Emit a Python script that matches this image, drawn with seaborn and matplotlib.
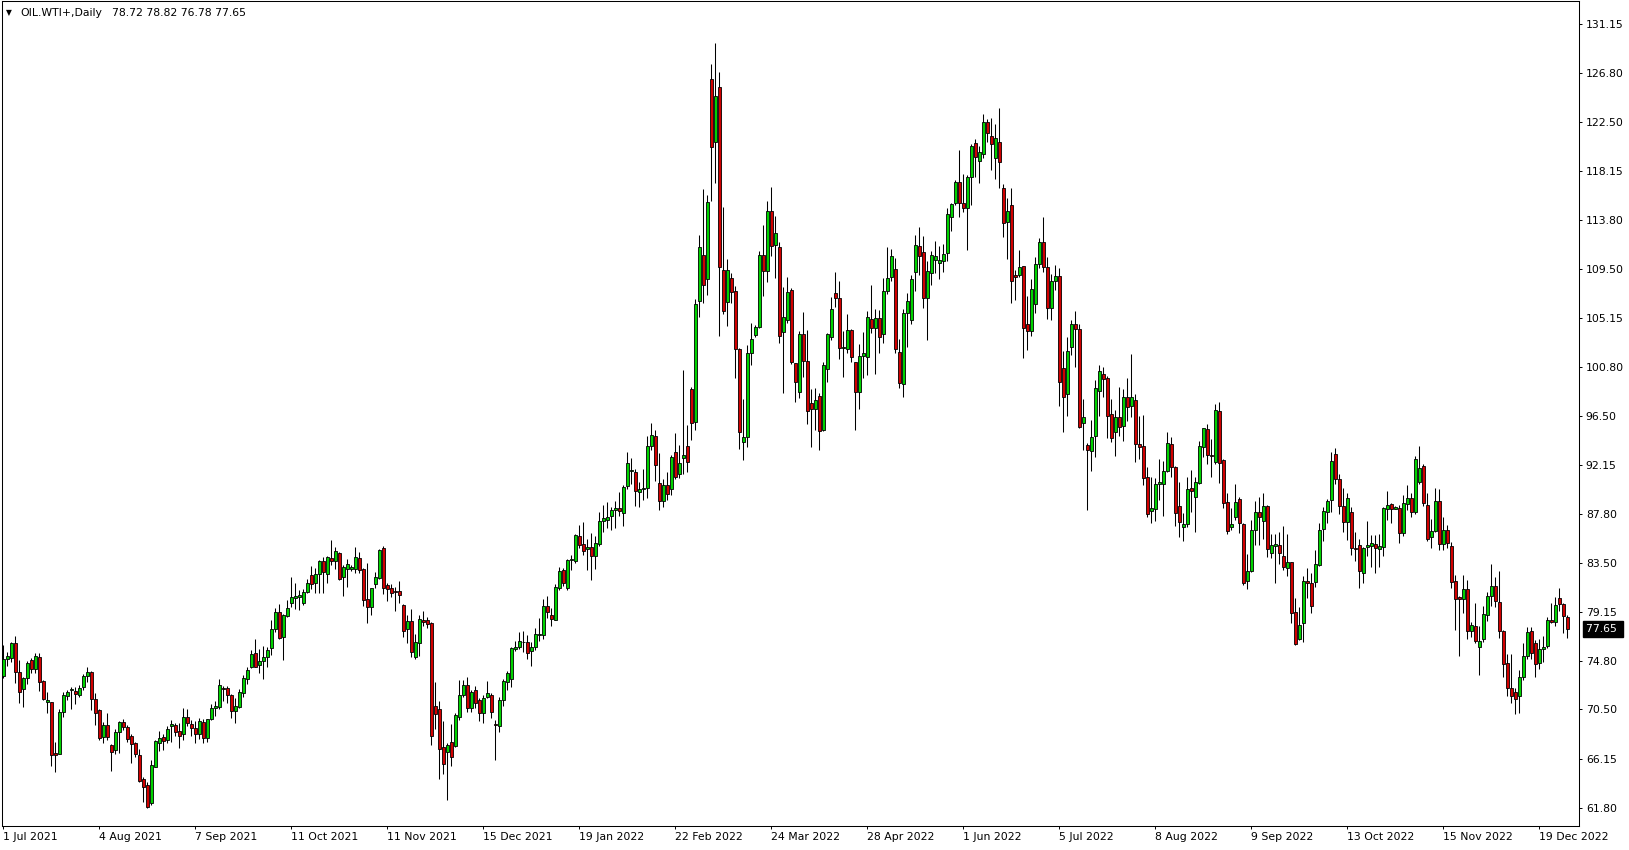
import numpy as np
import pandas as pd
import matplotlib
matplotlib.use("Agg")
import matplotlib.pyplot as plt
import seaborn as sns

# daily candles (OIL.WTI+, 1 Jul 2021 - end Dec 2022)
open_px = [
    73.46, 75.00, 75.03, 76.36, 73.79, 72.28, 73.26, 74.88, 74.11, 75.12,
    73.02, 71.13, 71.13, 66.65, 66.59, 70.25, 71.72, 72.20, 72.17, 71.81,
    72.46, 73.43, 73.82, 71.46, 70.46, 68.10, 69.10, 67.36, 66.94, 68.48,
    69.36, 68.95, 68.15, 67.51, 66.47, 64.35, 63.79, 62.25, 65.44, 67.56,
    68.04, 67.80, 69.07, 69.13, 68.57, 68.30, 69.81, 69.22, 68.83, 68.30,
    69.36, 67.95, 69.63, 70.60, 70.69, 72.43, 72.40, 71.78, 70.40, 70.75,
    71.93, 73.17, 74.29, 75.47, 74.41, 74.82, 75.12, 75.91, 77.59, 79.10,
    76.95, 78.80, 79.90, 80.40, 80.49, 79.95, 80.93, 82.37, 81.67, 82.46,
    83.61, 82.46, 83.88, 83.67, 84.32, 82.25, 82.96, 82.93, 82.96, 83.88,
    82.93, 80.28, 79.60, 81.58, 82.11, 84.76, 81.49, 81.22, 80.99, 80.96,
    79.75, 77.59, 78.33, 75.18, 76.36, 78.42, 78.42, 78.15, 70.81, 70.51,
    67.15, 66.71, 67.59, 67.30, 69.81, 71.78, 72.67, 70.60, 72.23, 71.34,
    70.22, 71.64, 71.78, 69.22, 69.07, 71.34, 72.96, 73.17, 75.82, 76.00,
    76.44, 76.44, 75.63, 76.01, 77.10, 77.07, 79.67, 78.87, 78.43, 81.20,
    82.86, 81.20, 83.71, 83.59, 85.86, 85.13, 84.68, 84.89, 84.04, 85.13,
    87.13, 87.22, 87.66, 88.19, 88.31, 87.87, 90.23, 91.62, 91.53, 89.70,
    89.99, 90.08, 93.77, 94.71, 90.53, 88.90, 90.40, 90.00, 93.25, 91.30,
    92.72, 93.81, 98.86, 95.91, 106.68, 110.69, 108.56, 126.26, 120.75, 125.56,
    109.39, 106.59, 108.65, 107.50, 102.37, 94.14, 94.58, 102.02, 103.64, 104.38,
    110.69, 109.33, 114.58, 111.57, 111.40, 103.87, 104.97, 107.63, 101.13, 98.63,
    103.70, 101.31, 97.63, 97.12, 98.21, 95.24, 100.60, 103.50, 107.33, 106.89,
    102.46, 102.37, 104.09, 101.22, 98.63, 101.81, 101.72, 105.06, 104.23, 105.12,
    103.70, 107.57, 108.75, 109.45, 102.17, 99.28, 105.56, 104.97, 109.19, 111.51,
    110.95, 106.94, 109.10, 110.28, 109.98, 110.22, 110.87, 114.11, 115.29, 117.15,
    115.29, 114.85, 117.59, 120.60, 119.07, 119.63, 122.46, 121.28, 119.27, 120.69,
    116.62, 113.61, 115.11, 108.95, 108.95, 109.71, 104.58, 104.02, 106.35, 109.92,
    111.84, 109.63, 106.00, 108.40, 108.90, 100.69, 98.39, 102.55, 104.60, 104.20,
    95.88, 93.88, 93.41, 94.73, 98.72, 100.19, 99.81, 96.62, 95.09, 96.36,
    95.62, 98.19, 97.39, 97.86, 93.97, 93.79, 91.05, 88.10, 88.21, 90.49,
    90.49, 91.58, 94.03, 91.99, 88.50, 86.67, 86.91, 90.10, 89.33, 90.57,
    93.76, 95.32, 93.02, 92.43, 96.91, 92.57, 88.83, 86.62, 87.56, 89.12,
    86.91, 81.90, 82.78, 86.38, 87.94, 87.21, 88.50, 84.32, 84.99, 85.05,
    84.08, 82.99, 83.52, 79.09, 76.70, 78.12, 81.87, 81.66, 81.75, 83.28,
    86.44, 88.00, 89.04, 93.08, 90.86, 88.50, 87.06, 87.94, 84.82, 85.02,
    82.60, 84.85, 84.99, 85.11, 84.73, 84.91, 88.21, 88.65, 88.27, 88.30,
    86.08, 88.68, 89.18, 87.94, 90.66, 92.04, 88.59, 85.73, 86.32, 88.95,
    85.14, 86.40, 85.00, 81.87, 80.43, 80.25, 81.13, 77.48, 77.89, 76.06,
    76.71, 78.86, 80.54, 81.43, 79.98, 77.45, 74.59, 72.37, 72.08, 71.72,
    73.41, 75.23, 77.45, 76.36, 74.59, 75.82, 76.15, 78.42, 78.21, 80.34,
    79.84, 78.72,
]

high_px = [
    76.21, 75.62, 76.45, 77.00, 74.88, 73.40, 74.79, 75.03, 75.53, 75.53,
    73.11, 72.02, 71.19, 67.59, 70.54, 72.05, 72.20, 72.46, 72.46, 72.67,
    73.64, 74.23, 73.91, 71.93, 70.55, 69.39, 70.19, 67.45, 68.80, 69.51,
    69.69, 69.10, 68.30, 67.65, 67.00, 64.56, 64.05, 66.03, 67.80, 68.60,
    68.33, 69.04, 69.57, 69.28, 69.28, 70.60, 70.51, 69.57, 69.48, 69.75,
    69.63, 69.69, 70.99, 71.28, 73.20, 72.61, 72.58, 71.84, 71.55, 72.28,
    73.55, 74.29, 75.77, 76.74, 75.82, 76.12, 76.00, 78.42, 79.45, 79.84,
    78.92, 80.19, 82.20, 81.67, 81.08, 81.13, 82.02, 83.20, 82.99, 83.73,
    83.97, 84.08, 85.50, 84.85, 84.44, 83.29, 83.79, 83.29, 84.85, 84.44,
    83.05, 83.43, 81.28, 82.64, 84.67, 84.97, 81.67, 81.61, 81.37, 81.87,
    79.80, 78.86, 79.36, 77.18, 78.86, 79.22, 78.66, 78.21, 72.93, 71.28,
    69.48, 67.56, 69.22, 70.22, 73.11, 73.11, 73.35, 72.23, 72.58, 71.49,
    71.78, 73.02, 71.93, 69.57, 71.64, 73.17, 73.91, 76.06, 76.56, 77.39,
    77.45, 77.09, 76.45, 77.69, 78.58, 80.26, 80.55, 79.46, 81.62, 83.06,
    83.00, 83.80, 84.18, 86.01, 86.84, 87.07, 85.57, 86.10, 85.81, 87.99,
    88.61, 88.84, 88.40, 88.96, 89.73, 90.38, 93.24, 92.74, 91.76, 90.61,
    91.79, 94.71, 95.89, 95.25, 93.18, 90.90, 91.50, 93.00, 94.94, 93.90,
    100.54, 95.67, 99.07, 106.79, 112.49, 116.56, 116.03, 127.62, 129.45, 126.91,
    114.99, 110.33, 109.09, 107.97, 102.45, 97.94, 102.75, 104.67, 104.52, 111.10,
    113.37, 115.50, 116.71, 114.17, 111.84, 107.91, 108.74, 107.77, 101.19, 104.00,
    105.65, 104.09, 98.86, 98.92, 98.48, 101.28, 103.85, 106.98, 109.22, 108.42,
    103.99, 105.50, 104.20, 101.28, 102.85, 103.94, 105.80, 108.07, 105.91, 105.86,
    108.66, 111.46, 111.22, 110.43, 103.26, 105.91, 107.39, 108.95, 112.49, 113.22,
    112.40, 110.19, 111.07, 111.99, 111.51, 111.69, 114.85, 115.35, 117.35, 120.01,
    117.89, 117.80, 120.51, 120.98, 120.36, 123.20, 122.75, 122.87, 122.28, 123.73,
    116.97, 115.79, 116.68, 109.39, 111.16, 109.77, 107.09, 108.56, 110.57, 112.19,
    114.11, 110.57, 109.00, 109.80, 109.60, 102.23, 103.50, 105.00, 105.80, 104.60,
    97.95, 94.11, 96.12, 99.66, 100.99, 100.78, 100.00, 97.98, 97.01, 99.01,
    98.83, 99.81, 101.96, 98.42, 96.47, 96.53, 91.93, 91.05, 90.96, 92.67,
    92.49, 95.03, 94.65, 92.05, 90.66, 87.91, 91.04, 91.69, 91.04, 94.29,
    95.44, 95.76, 94.43, 97.50, 97.68, 92.63, 89.63, 88.30, 90.42, 89.27,
    86.97, 84.26, 87.27, 88.95, 89.27, 89.63, 88.59, 86.03, 86.03, 86.17,
    86.73, 86.03, 83.58, 80.33, 79.60, 82.34, 82.99, 82.55, 84.61, 86.97,
    88.39, 89.12, 93.25, 93.61, 91.34, 90.07, 89.63, 88.45, 86.23, 85.55,
    84.85, 87.18, 85.94, 85.94, 86.03, 88.39, 89.83, 88.80, 88.50, 88.59,
    89.48, 90.36, 89.68, 92.93, 93.81, 92.22, 89.68, 87.35, 90.07, 90.00,
    87.50, 86.80, 85.30, 82.40, 80.57, 82.40, 81.96, 78.21, 79.95, 77.89,
    79.66, 80.87, 83.35, 82.26, 82.76, 77.51, 75.38, 75.38, 72.43, 73.99,
    76.36, 77.83, 77.83, 76.65, 76.71, 77.00, 78.71, 79.95, 80.43, 81.22,
    79.95, 78.82,
]

low_px = [
    73.32, 74.38, 74.73, 72.87, 71.05, 70.75, 72.73, 73.70, 73.70, 72.17,
    71.34, 70.16, 65.53, 65.00, 66.56, 69.81, 71.34, 70.57, 70.99, 71.64,
    72.23, 72.90, 70.46, 69.13, 67.80, 67.56, 67.80, 65.09, 66.53, 66.62,
    68.71, 67.65, 65.73, 66.27, 64.11, 62.34, 61.75, 62.05, 65.38, 66.86,
    66.92, 67.51, 67.65, 68.18, 67.12, 67.80, 69.07, 68.18, 67.56, 67.89,
    67.56, 67.65, 69.57, 69.95, 70.54, 71.28, 71.05, 69.72, 69.33, 70.60,
    71.58, 72.79, 74.14, 74.23, 73.70, 73.17, 74.23, 75.32, 77.39, 76.74,
    74.88, 78.66, 79.54, 79.42, 79.31, 79.78, 80.84, 81.16, 80.78, 80.78,
    80.78, 81.72, 83.32, 82.96, 81.96, 80.54, 81.37, 82.79, 82.61, 82.55,
    79.66, 78.18, 78.86, 81.28, 82.02, 80.72, 80.13, 80.49, 79.25, 79.95,
    76.95, 76.41, 75.12, 74.94, 75.26, 77.92, 77.74, 67.36, 68.77, 64.35,
    64.76, 62.45, 65.53, 67.21, 69.57, 71.64, 70.31, 70.31, 70.60, 69.51,
    69.33, 71.49, 69.72, 66.03, 68.54, 70.84, 72.23, 72.52, 75.71, 75.82,
    75.62, 74.94, 74.30, 75.72, 76.51, 76.72, 78.58, 77.84, 78.37, 81.09,
    81.38, 81.03, 82.86, 83.50, 84.77, 84.18, 82.80, 81.91, 82.94, 84.98,
    86.16, 86.54, 86.34, 86.54, 87.58, 86.69, 90.02, 90.44, 88.46, 88.40,
    89.05, 89.20, 93.48, 90.67, 88.17, 88.40, 89.00, 89.50, 90.90, 91.00,
    91.30, 91.50, 94.35, 95.23, 105.20, 106.50, 107.18, 115.53, 117.12, 103.58,
    105.50, 104.46, 106.50, 99.80, 93.52, 92.57, 93.70, 100.98, 103.49, 104.23,
    107.12, 108.36, 110.66, 108.65, 102.90, 98.50, 104.67, 101.08, 97.74, 98.04,
    99.90, 95.77, 93.76, 95.24, 93.47, 95.18, 99.51, 103.20, 106.09, 101.49,
    99.90, 102.02, 101.22, 95.24, 97.06, 99.81, 100.10, 103.79, 100.19, 102.08,
    102.96, 107.27, 108.42, 102.08, 98.92, 98.19, 102.61, 104.62, 107.50, 108.95,
    106.00, 103.20, 108.06, 109.15, 108.59, 109.24, 110.22, 112.87, 115.14, 114.11,
    114.55, 111.16, 115.14, 117.65, 117.12, 119.27, 120.75, 118.24, 117.47, 116.62,
    112.34, 110.36, 106.44, 106.74, 108.80, 101.57, 102.31, 103.55, 105.61, 109.60,
    109.24, 105.05, 105.00, 107.60, 97.39, 95.09, 96.47, 101.87, 100.84, 95.38,
    93.47, 88.16, 91.64, 92.88, 96.50, 98.19, 94.56, 94.20, 92.96, 94.73,
    94.29, 96.06, 96.42, 92.43, 92.64, 90.37, 87.57, 86.98, 87.21, 89.04,
    87.65, 91.49, 91.11, 86.77, 85.73, 85.44, 86.62, 87.94, 86.23, 90.45,
    92.81, 92.22, 91.10, 92.22, 90.51, 88.30, 86.03, 86.38, 87.27, 86.14,
    81.51, 81.16, 82.69, 85.05, 85.05, 85.58, 84.02, 83.87, 81.72, 83.37,
    82.84, 82.34, 78.12, 76.20, 76.64, 76.50, 80.33, 79.06, 81.31, 83.19,
    85.44, 87.03, 88.00, 90.45, 87.80, 86.23, 85.50, 84.17, 83.64, 81.28,
    81.72, 84.08, 83.13, 82.60, 83.08, 84.08, 87.27, 87.03, 88.21, 85.26,
    85.88, 88.15, 87.56, 87.80, 90.45, 88.50, 85.41, 84.76, 86.23, 84.60,
    84.60, 84.80, 81.22, 77.54, 75.26, 79.01, 76.74, 76.89, 76.36, 73.55,
    76.50, 78.36, 79.66, 79.60, 76.80, 73.41, 71.69, 71.04, 70.07, 70.22,
    73.11, 74.94, 74.94, 73.41, 74.08, 74.73, 75.91, 78.12, 77.92, 79.25,
    77.30, 76.78,
]

close_px = [
    74.94, 75.23, 76.36, 73.79, 72.08, 73.26, 74.64, 74.11, 75.23, 72.90,
    71.43, 71.34, 66.50, 66.44, 70.25, 71.75, 72.05, 72.31, 71.90, 72.37,
    73.43, 73.82, 71.46, 70.16, 68.01, 69.10, 68.10, 66.77, 68.48, 69.39,
    68.92, 67.92, 67.42, 66.56, 64.17, 63.67, 61.90, 65.56, 67.71, 67.95,
    67.74, 68.74, 69.22, 68.48, 68.18, 69.81, 69.28, 68.89, 68.33, 69.45,
    67.95, 69.63, 70.60, 70.81, 72.64, 72.28, 71.81, 70.40, 70.81, 72.02,
    73.29, 74.00, 75.38, 74.29, 74.79, 75.12, 75.74, 77.59, 79.10, 76.86,
    78.86, 79.45, 80.49, 80.51, 80.60, 80.87, 81.67, 81.58, 82.49, 83.61,
    82.64, 84.03, 83.67, 84.50, 82.05, 83.08, 83.35, 83.11, 83.97, 82.87,
    80.19, 79.60, 81.22, 82.20, 84.62, 81.28, 81.13, 80.78, 80.90, 80.60,
    77.42, 78.33, 75.62, 76.47, 78.48, 78.27, 78.04, 68.18, 70.07, 66.97,
    65.68, 67.36, 66.27, 70.01, 71.78, 72.67, 70.60, 72.02, 71.10, 70.22,
    71.55, 71.93, 70.31, 69.16, 71.34, 73.02, 73.70, 75.94, 76.00, 76.56,
    76.50, 75.47, 76.01, 77.16, 77.19, 79.67, 79.08, 78.49, 81.32, 82.77,
    81.68, 83.74, 83.83, 85.95, 85.01, 84.48, 84.89, 84.04, 85.22, 87.19,
    87.40, 87.49, 88.17, 88.31, 88.02, 90.17, 92.30, 91.71, 89.79, 89.99,
    90.08, 93.83, 94.80, 92.09, 88.90, 90.40, 89.60, 92.87, 91.10, 92.28,
    92.99, 92.37, 95.82, 106.35, 111.40, 108.03, 115.38, 120.31, 124.79, 109.63,
    105.79, 109.39, 107.41, 102.37, 95.08, 94.64, 102.02, 103.25, 104.32, 110.69,
    109.33, 114.58, 111.54, 112.63, 103.55, 105.20, 107.47, 101.22, 99.51, 103.70,
    101.37, 96.95, 97.12, 97.86, 95.18, 100.96, 103.70, 105.91, 106.95, 102.46,
    102.61, 104.09, 101.67, 98.63, 101.78, 102.02, 105.21, 104.23, 105.12, 103.50,
    107.54, 108.66, 110.63, 102.37, 99.37, 105.56, 106.65, 108.57, 111.61, 110.66,
    106.88, 109.30, 110.72, 110.63, 110.25, 110.81, 114.35, 115.23, 117.15, 115.29,
    114.85, 117.59, 120.36, 119.42, 119.80, 122.46, 121.49, 120.51, 121.04, 118.98,
    113.52, 114.64, 108.45, 108.80, 109.63, 104.29, 104.02, 107.68, 109.92, 111.84,
    109.68, 106.00, 108.40, 108.90, 99.51, 98.13, 102.23, 104.60, 104.20, 95.53,
    96.42, 93.47, 94.59, 98.92, 100.43, 99.78, 96.50, 94.56, 96.42, 95.47,
    98.13, 97.30, 98.13, 94.03, 93.76, 90.96, 87.77, 88.36, 90.49, 90.60,
    91.58, 94.06, 91.99, 87.86, 87.12, 86.91, 90.01, 89.86, 90.60, 93.81,
    95.38, 93.02, 92.90, 97.00, 92.28, 88.80, 86.32, 86.91, 88.83, 86.97,
    81.66, 82.75, 86.38, 88.00, 87.56, 88.50, 84.67, 85.05, 85.14, 84.32,
    83.08, 83.52, 79.00, 76.26, 77.97, 81.90, 81.66, 79.68, 83.34, 86.38,
    88.06, 88.95, 92.49, 90.86, 88.53, 87.12, 89.18, 84.76, 84.73, 82.78,
    84.76, 85.02, 85.20, 84.82, 84.93, 88.30, 88.56, 88.21, 88.39, 86.08,
    88.74, 89.18, 87.94, 92.63, 91.84, 88.74, 85.58, 86.29, 88.95, 85.14,
    86.40, 85.20, 81.81, 80.25, 80.25, 81.13, 77.48, 77.95, 76.56, 76.56,
    78.92, 80.54, 81.43, 80.13, 77.45, 74.50, 72.37, 71.72, 71.40, 73.35,
    75.23, 77.39, 75.53, 74.50, 75.82, 76.00, 78.42, 78.21, 79.75, 79.81,
    78.80, 77.65,
]

date_labels = [
    "1 Jul 2021", "4 Aug 2021", "7 Sep 2021", "11 Oct 2021", "11 Nov 2021",
    "15 Dec 2021", "19 Jan 2022", "22 Feb 2022", "24 Mar 2022", "28 Apr 2022",
    "1 Jun 2022", "5 Jul 2022", "8 Aug 2022", "9 Sep 2022", "13 Oct 2022",
    "15 Nov 2022", "19 Dec 2022",
]
bars_per_label = 24

price_ticks = [61.80, 66.15, 70.50, 74.80, 79.15, 83.50, 87.80, 92.15, 96.50,
               100.80, 105.15, 109.50, 113.80, 118.15, 122.50, 126.80, 131.15]

sns.set_theme(style="white")
plt.rcParams['font.family'] = ['DejaVu Sans']

df = pd.DataFrame({'open': open_px, 'high': high_px, 'low': low_px, 'close': close_px})
df['bar'] = np.arange(len(df))
df['up'] = df['close'] >= df['open']
df['body_lo'] = df[['open', 'close']].min(axis=1)
df['body_h'] = (df['close'] - df['open']).abs().clip(lower=0.04)

up_col = '#00d200'
down_col = '#d00000'
fs = 7.8

W, H = 1629, 850
fig = plt.figure(figsize=(W / 100, H / 100), dpi=100)
ax = fig.add_axes([2.3 / W, 24 / H, 1577 / W, 825.5 / H])

# wicks then bodies
ax.vlines(df['bar'], df['low'], df['high'], color='black', linewidth=0.75, zorder=2)
ax.bar(df['bar'], df['body_h'], bottom=df['body_lo'], width=0.62,
       color=np.where(df['up'], up_col, down_col), edgecolor='black',
       linewidth=0.6, zorder=3)

ax.set_xlim(-0.25, 394.0)
ax.set_ylim(60.18, 133.24)

ax.yaxis.tick_right()
ax.set_yticks(price_ticks)
ax.set_yticklabels([f"{v:.2f}" for v in price_ticks])
ax.set_xticks(np.arange(len(date_labels)) * bars_per_label)
ax.set_xticklabels(date_labels)
for lab in ax.get_xticklabels():
    lab.set_horizontalalignment('left')

ax.tick_params(axis='y', which='both', right=True, left=False, length=2.2, width=0.7,
               pad=2.5, labelsize=fs, colors='black', direction='out')
ax.tick_params(axis='x', which='both', bottom=True, length=2.2, width=0.7,
               pad=2.2, labelsize=fs, colors='black', direction='out')

for sp in ax.spines.values():
    sp.set_color('black')
    sp.set_linewidth(0.75)
ax.grid(False)
ax.set_facecolor('white')
fig.patch.set_facecolor('white')

# header line
hy = 1 - 12.5 / H
fig.text(5.5 / W, hy, "\u25bc", fontsize=5.5, va='center', ha='left', color='black')
fig.text(20.8 / W, hy, "OIL.WTI+,Daily", fontsize=fs, va='center', ha='left', color='black')
fig.text(112 / W, hy,
         f"{open_px[-1]:.2f} {high_px[-1]:.2f} {low_px[-1]:.2f} {close_px[-1]:.2f}",
         fontsize=fs, va='center', ha='left', color='black')

# last price marker on the price scale
ax.text(1.0040, close_px[-1], f"{close_px[-1]:.2f} ", transform=ax.get_yaxis_transform(),
        ha='left', va='center', color='white', fontsize=fs, clip_on=False,
        bbox=dict(boxstyle='square,pad=0.28', facecolor='black', edgecolor='black'))

fig.savefig('out.png', dpi=100)
